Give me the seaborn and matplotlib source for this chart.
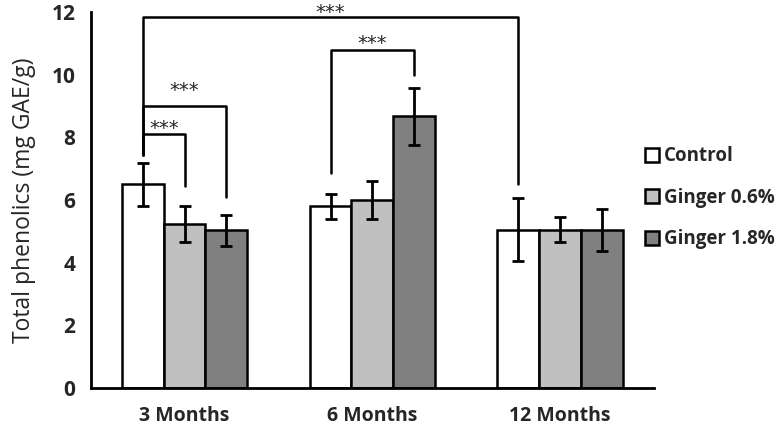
import numpy as np
import pandas as pd
import seaborn as sns
import matplotlib.pyplot as plt
from matplotlib.ticker import FixedLocator, NullFormatter

# values
periods = ["3 Months", "6 Months", "12 Months"]
treatments = ["Control", "Ginger 0.6%", "Ginger 1.8%"]
control = [6.5, 5.8, 5.05]
ginger_06 = [5.23, 6.0, 5.05]
ginger_18 = [5.03, 8.67, 5.05]
control_err = [0.68, 0.4, 1.0]
ginger_06_err = [0.58, 0.6, 0.4]
ginger_18_err = [0.49, 0.9, 0.67]

# significance brackets: (group a, bar a, group b, bar b, height, leg a end, leg b end, label y, label)
brackets = [
    (0, 0, 0, 1, 8.1, 7.45, 6.45, 8.47, "***"),
    (0, 0, 0, 2, 9.0, 7.45, 6.1, 9.68, "***"),
    (0, 0, 2, 0, 11.85, 7.45, 6.5, 12.2, "***"),
    (1, 0, 1, 2, 10.8, 6.85, 10.0, 11.2, "***"),
]

df = pd.DataFrame({
    "period": periods * 3,
    "treatment": np.repeat(treatments, 3),
    "value": control + ginger_06 + ginger_18,
    "err": control_err + ginger_06_err + ginger_18_err,
})

sns.set_style("white")
plt.rcParams["font.family"] = ["Open Sans", "DejaVu Sans"]

fig = plt.figure(figsize=(7.82, 4.30), dpi=100)
ax = fig.add_axes([0.116, 0.098, 0.72, 0.874])

colors = ["#ffffff", "#c0c0c0", "#808080"]
sns.barplot(data=df, x="period", y="value", hue="treatment", order=periods,
            hue_order=treatments, palette=colors, width=0.667, gap=0,
            edgecolor="black", linewidth=1.8, errorbar=None, ax=ax,
            saturation=1)

# error bars at bar centres
centers = {}
for i, t in enumerate(treatments):
    sub = df[df.treatment == t].set_index("period").loc[periods]
    cont = ax.containers[i]
    xs = [p.get_x() + p.get_width() / 2 for p in cont]
    for j, x in enumerate(xs):
        centers[(j, i)] = x
    ax.errorbar(xs, sub["value"], yerr=sub["err"], fmt="none", ecolor="black",
                elinewidth=2, capsize=4, capthick=2, zorder=5)

# brackets
for ga, ba, gb, bb, h, ya, yb, ly, lab in brackets:
    xa, xb = centers[(ga, ba)], centers[(gb, bb)]
    ax.plot([xa, xa, xb, xb], [ya, h, h, yb], color="black", lw=1.8,
            clip_on=False, zorder=6)
    ax.text((xa + xb) / 2, ly - 0.2, lab, ha="center", va="center",
            fontsize=14, family="DejaVu Sans", clip_on=False)

ax.set_ylim(0, 12)
ax.set_xlim(-0.5, 2.5)
ax.set_yticks(range(0, 13, 2))
ax.xaxis.set_minor_locator(FixedLocator([-0.5, 0.5, 1.5, 2.5]))
ax.xaxis.set_minor_formatter(NullFormatter())
ax.tick_params(axis="x", which="major", length=0, pad=13)
ax.tick_params(axis="x", which="minor", length=6, width=2, direction="out", color="black")
ax.tick_params(axis="y", length=6, width=2, direction="out", color="black", pad=5)
ax.tick_params(axis="x", labelsize=14)
ax.tick_params(axis="y", labelsize=15)
for lab in ax.get_xticklabels() + ax.get_yticklabels():
    lab.set_fontweight("bold")

sns.despine(ax=ax)
for s in ["left", "bottom"]:
    ax.spines[s].set_linewidth(2)
    ax.spines[s].set_color("black")

ax.set_xlabel("")
ax.set_ylabel("Total phenolics (mg GAE/g)", fontsize=16.5, labelpad=11)

handles, labels = ax.get_legend_handles_labels()
ax.legend(handles, labels, loc="center left", bbox_to_anchor=(0.803, 0.54),
          bbox_transform=fig.transFigure, frameon=False, handlelength=0.75,
          handleheight=0.75, handletextpad=0.25, labelspacing=1.15,
          prop={"weight": "bold", "size": 13.5})

fig.savefig("out.png", dpi=100)
